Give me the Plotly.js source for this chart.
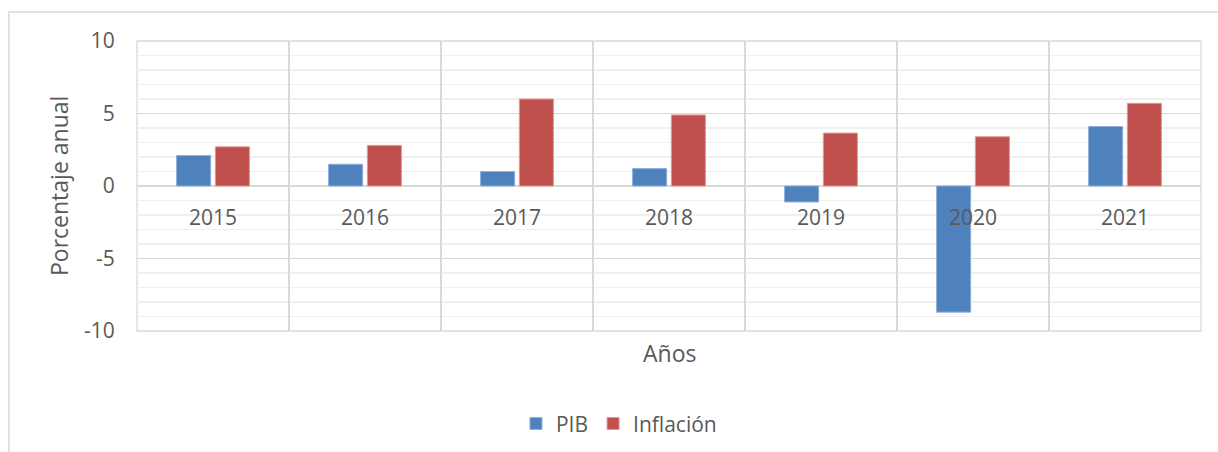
<!DOCTYPE html>
<html>
<head>
<meta charset="utf-8">
<script src="https://cdn.plot.ly/plotly-3.0.1.min.js"></script>
<style>html,body{margin:0;padding:0;background:#fff;}#chart{width:1218px;height:452px;}</style>
</head>
<body>
<div id="chart"></div>
<script>
const years = ['2015', '2016', '2017', '2018', '2019', '2020', '2021'];
const pib = [2.1, 1.5, 1.0, 1.2, -1.1, -8.7, 4.1];
const inflacion = [2.7, 2.8, 6.0, 4.9, 3.65, 3.4, 5.7];
const seriesNames = ['PIB', 'Inflación'];
const yTickVals = [-10, -5, 0, 5, 10];
const yTickText = ['-10', '-5', '0', '5', '10'];
const yTitle = 'Porcentaje anual';
const xTitle = 'Años';

const fontFam = '"Open Sans", "Noto Sans", sans-serif';
const txt = '#595959';
const grid = '#d9d9d9';

const traces = [
  {type: 'bar', name: seriesNames[0], x: years, y: pib,
   marker: {color: '#4f81bd', line: {color: '#8eb0dc', width: 1}}},
  {type: 'bar', name: seriesNames[1], x: years, y: inflacion,
   marker: {color: '#c0504d', line: {color: '#e39a98', width: 1}}}
];

const layout = {
  width: 1218, height: 452,
  margin: {l: 137, r: 17, t: 41, b: 121, autoexpand: false},
  paper_bgcolor: '#fff', plot_bgcolor: '#fff',
  font: {family: fontFam, size: 21, color: txt},
  barmode: 'group', bargap: 0.49, bargroupgap: 0.12,
  showlegend: true,
  legend: {orientation: 'h', x: 0.453, xanchor: 'center', y: -0.32, yanchor: 'middle',
           font: {family: fontFam, size: 21, color: txt}, itemclick: false},
  xaxis: {
    type: 'category', anchor: 'free', position: 0.5,
    tickson: 'boundaries', showgrid: true, gridcolor: grid, gridwidth: 1.3,
    ticks: '', ticklabelstandoff: 17,
    showline: false, zeroline: false, range: [-0.5, 6.5], fixedrange: true,
    automargin: false,
    tickfont: {family: fontFam, size: 21, color: txt}
  },
  yaxis: {
    range: [-10, 10], tickmode: 'array', tickvals: yTickVals, ticktext: yTickText,
    showgrid: true, gridcolor: grid, gridwidth: 1.3,
    zeroline: true, zerolinecolor: grid, zerolinewidth: 1.3,
    minor: {dtick: 1, tick0: 0, showgrid: true, gridcolor: '#f0f0f0', gridwidth: 1.3},
    ticks: 'outside', ticklen: 17, tickcolor: 'rgba(0,0,0,0)',
    showline: false, fixedrange: true, automargin: false,
    tickfont: {family: fontFam, size: 21, color: txt}
  },
  shapes: [
    {type: 'rect', xref: 'paper', yref: 'paper', x0: 0, x1: 1, y0: 0, y1: 1,
     line: {color: grid, width: 1.3}, layer: 'below'},
    {type: 'rect', xref: 'paper', yref: 'paper', x0: -0.1203, x1: 1.05, y0: -0.6, y1: 1.1,
     line: {color: grid, width: 1.5}, layer: 'below'}
  ],
  annotations: [
    {text: yTitle, xref: 'paper', yref: 'paper', x: -0.0733, y: 0.5,
     xanchor: 'center', yanchor: 'middle', textangle: -90, showarrow: false,
     font: {family: fontFam, size: 23, color: txt}},
    {text: xTitle, xref: 'paper', yref: 'paper', x: 0.5, y: -0.0759,
     xanchor: 'center', yanchor: 'middle', showarrow: false,
     font: {family: fontFam, size: 23, color: txt}}
  ]
};

Plotly.newPlot('chart', traces, layout, {displayModeBar: false, staticPlot: true});
</script>
</body>
</html>
